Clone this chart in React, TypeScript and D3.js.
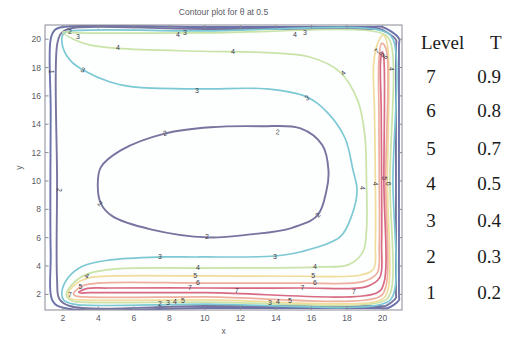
import { useEffect, useRef } from 'react'

import { curveCatmullRomClosed, line, scaleLinear, select } from 'd3'

// legend table
const legendLevels = ['7', '6', '5', '4', '3', '2', '1']
const legendT = ['0.9', '0.8', '0.7', '0.5', '0.4', '0.3', '0.2']

const levelColors: Record<number, string> = {
  1: '#6d73aa',
  2: '#77749f',
  3: '#7cc9d4',
  4: '#c9e3a8',
  5: '#f0dc9c',
  6: '#efaf9e',
  7: '#d96a84',
}

const xTicks = [2, 4, 6, 8, 10, 12, 14, 16, 18, 20]
const yTicks = [2, 4, 6, 8, 10, 12, 14, 16, 18, 20]

// contour lines, [x, y] in data units
const level1Loop: [number, number][] = [
  [2.0, 20.86], [10, 20.86], [19.5, 20.86], [20.0, 20.86], [20.93, 20.05], [20.93, 19.6], [20.93, 10],
  [20.93, 1.9], [20.93, 1.6], [20.3, 1.04], [19.9, 1.04], [10, 1.04], [2.1, 1.04], [1.45, 1.5],
  [1.32, 5], [1.32, 15], [1.32, 20.0], [1.55, 20.65],
]
const level2Loop: [number, number][] = [
  [2.3, 20.72], [10, 20.72], [19.5, 20.72], [19.85, 20.72], [20.76, 19.95], [20.76, 19.5], [20.76, 10],
  [20.76, 2.0], [20.76, 1.75], [20.15, 1.18], [19.8, 1.18], [10, 1.18], [2.4, 1.18], [1.8, 1.7],
  [1.68, 3], [1.68, 10], [1.68, 19.6], [1.9, 20.4],
]
const level2Oval: [number, number][] = [
  [3.97, 9.69], [4.14, 10.96], [5.26, 12.16], [7.79, 13.36], [10.32, 13.79], [13.14, 13.86],
  [15.39, 13.71], [16.62, 12.52], [16.96, 10.75], [16.85, 9.34], [16.34, 7.58], [14.82, 6.66],
  [12.57, 6.23], [10.16, 6.02], [6.95, 6.59], [4.81, 7.5], [4.14, 8.42],
]
const level3Loop: [number, number][] = [
  [1.95, 20.1], [2.1, 19.1], [2.5, 18.4], [3.14, 17.83], [4.66, 16.98], [5.95, 16.63],
  [9.73, 16.49], [13.5, 16.49], [15.75, 15.92], [16.88, 14.86], [17.89, 13.03], [18.34, 10.77],
  [18.57, 9.36], [18.28, 7.6], [17.61, 6.05], [15.36, 4.99], [13.95, 4.71], [9.73, 4.64],
  [7.47, 4.64], [4.66, 4.43], [3.14, 4.0], [2.29, 3.16], [1.95, 2.17], [2.05, 1.6], [2.6, 1.32],
  [10, 1.32], [20.0, 1.32], [20.59, 1.9], [20.59, 10], [20.59, 20.0], [20.0, 20.58],
  [10, 20.58], [2.5, 20.58], [2.05, 20.4],
]
const level4Loop: [number, number][] = [
  [2.0, 20.5], [2.6, 20.0], [3.5, 19.6], [5.1, 19.35], [9.7, 19.15], [13.5, 19.05], [15.9, 18.74],
  [17.6, 17.7], [18.6, 15.7], [19.0, 13.3], [19.1, 10], [19.1, 6.5], [18.9, 5.0], [18.1, 4.1],
  [16.2, 3.93], [9.6, 3.86], [5.0, 3.8], [3.4, 3.45], [2.6, 2.8], [2.2, 2.0], [2.5, 1.55],
  [3.0, 1.46], [10, 1.46], [19.9, 1.46], [20.42, 2.0], [20.42, 10], [20.42, 19.9], [19.9, 20.44],
  [10, 20.44], [2.8, 20.44],
]
const level5Loop: [number, number][] = [
  [2.3, 2.0], [2.7, 2.7], [3.4, 3.15], [5.0, 3.3], [10, 3.3], [15.4, 3.28], [18.7, 3.35],
  [19.5, 3.8], [19.6, 5.5], [19.6, 10], [19.55, 15], [19.5, 18.2], [19.7, 19.6], [20.05, 20.3],
  [20.28, 19.6], [20.28, 10], [20.28, 2.2], [19.9, 1.61], [10, 1.61], [3.0, 1.61], [2.45, 1.7],
]
const level6Loop: [number, number][] = [
  [2.6, 2.05], [3.1, 2.6], [4.0, 2.8], [10, 2.8], [15.5, 2.8], [18.9, 2.9], [19.7, 3.5],
  [19.82, 5.5], [19.82, 10], [19.8, 15], [19.8, 18.5], [19.95, 19.7], [20.18, 19.4], [20.18, 10],
  [20.18, 2.5], [19.8, 1.82], [10, 1.82], [3.2, 1.82], [2.7, 1.9],
]
const level7Loop: [number, number][] = [
  [2.9, 2.15], [3.4, 2.42], [4.5, 2.45], [10, 2.45], [15.5, 2.45], [19.1, 2.55], [19.85, 3.2],
  [19.95, 5.5], [19.95, 10], [19.93, 15], [19.9, 18.6], [20.0, 19.1], [20.08, 18.6], [20.08, 10],
  [20.08, 2.8], [19.7, 2.12], [10, 2.12], [3.5, 2.12], [3.0, 2.1],
]

const contours: { level: number; points: [number, number][] }[] = [
  { level: 1, points: level1Loop },
  { level: 2, points: level2Loop },
  { level: 2, points: level2Oval },
  { level: 3, points: level3Loop },
  { level: 4, points: level4Loop },
  { level: 5, points: level5Loop },
  { level: 6, points: level6Loop },
  { level: 7, points: level7Loop },
]

// clabel digits: x, y, text, angle
const contourLabels: [number, number, string, number][] = [
  [1.39, 17.7, '1', 90], [1.84, 9.36, '2', 90],
  [7.76, 13.38, '2', -15], [14.1, 13.45, '2', 5], [16.37, 7.6, '2', -50], [10.12, 6.05, '2', 0], [4.1, 8.4, '2', 40],
  [3.14, 17.83, '3', 30], [9.56, 16.4, '3', 0], [15.75, 15.85, '3', -30], [13.95, 4.66, '3', 0], [7.47, 4.66, '3', 0],
  [5.11, 19.4, '4', 0], [11.58, 19.1, '4', 0], [17.78, 17.62, '4', -45], [18.9, 9.5, '4', 90],
  [9.61, 3.86, '4', 0], [16.2, 3.93, '4', 0], [3.36, 3.3, '4', 30],
  [9.45, 3.3, '5', 0], [9.61, 2.85, '6', 0], [16.1, 3.3, '5', 0], [16.2, 2.85, '6', 0],
  [9.16, 2.5, '7', 0], [11.8, 2.3, '7', 0], [15.5, 2.5, '7', 0], [18.4, 2.2, '7', 0],
  [7.47, 1.35, '2', 0], [7.92, 1.42, '3', 0], [8.32, 1.5, '4', 0], [8.77, 1.57, '5', 0],
  [13.67, 1.4, '3', 0], [14.12, 1.48, '4', 0], [14.79, 1.56, '5', 0],
  [2.41, 20.55, '2', 0], [2.86, 20.2, '3', 0], [8.49, 20.3, '4', 0], [8.88, 20.5, '3', 0],
  [15.08, 20.3, '4', 0], [15.64, 20.5, '3', 0],
  [19.69, 19.15, '7', -45], [19.95, 18.95, '5', -45], [20.15, 18.75, '6', -45], [20.5, 17.9, '4', 90],
  [19.58, 9.8, '4', 90], [20.14, 10.2, '5', 90], [20.35, 9.8, '6', 90],
  [2.4, 2.0, '7', 0], [3.0, 2.55, '5', 0],
]

function ContourChart() {
  const svgRef = useRef<SVGSVGElement | null>(null)

  useEffect(() => {
    if (!svgRef.current) {
      return
    }
    const svg = select(svgRef.current)
    svg.selectAll('*').remove()

    const plot = { left: 45, right: 402, top: 25, bottom: 310 }
    const x = scaleLinear().domain([1, 21.1]).range([plot.left, plot.right])
    const y = scaleLinear().domain([0.9, 21]).range([plot.bottom, plot.top])

    const defs = svg.append('defs')
    defs
      .append('clipPath')
      .attr('id', 'plot-clip')
      .append('rect')
      .attr('x', plot.left)
      .attr('y', plot.top)
      .attr('width', plot.right - plot.left)
      .attr('height', plot.bottom - plot.top)
    defs
      .append('filter')
      .attr('id', 'soft')
      .append('feGaussianBlur')
      .attr('stdDeviation', 0.45)

    svg
      .append('rect')
      .attr('x', plot.left)
      .attr('y', plot.top)
      .attr('width', plot.right - plot.left)
      .attr('height', plot.bottom - plot.top)
      .attr('fill', '#fdfefe')

    const path = line<[number, number]>()
      .x(d => x(d[0]))
      .y(d => y(d[1]))
      .curve(curveCatmullRomClosed.alpha(0.5))

    const lines = svg.append('g').attr('clip-path', 'url(#plot-clip)')
    const strokes = lines.append('g').attr('filter', 'url(#soft)')
    strokes
      .selectAll('path')
      .data(contours)
      .join('path')
      .attr('d', d => path(d.points))
      .attr('fill', 'none')
      .attr('stroke', d => levelColors[d.level])
      .attr('stroke-width', d => (d.level <= 2 ? 1.9 : 1.7))
      .attr('stroke-linejoin', 'round')

    lines
      .selectAll('text')
      .data(contourLabels)
      .join('text')
      .attr('transform', d => `translate(${x(d[0])},${y(d[1])}) rotate(${d[3]})`)
      .attr('text-anchor', 'middle')
      .attr('dy', '0.35em')
      .attr('font-family', 'Arial, "Liberation Sans", sans-serif')
      .attr('font-size', 7)
      .attr('fill', '#3a3a48')
      .text(d => d[2])

    // axes box with inner ticks on all sides
    const axis = svg.append('g').attr('stroke', '#8a8a96').attr('stroke-width', 1)
    axis
      .append('rect')
      .attr('x', plot.left)
      .attr('y', plot.top)
      .attr('width', plot.right - plot.left)
      .attr('height', plot.bottom - plot.top)
      .attr('fill', 'none')
    xTicks.forEach(t => {
      axis.append('line').attr('x1', x(t)).attr('x2', x(t)).attr('y1', plot.bottom).attr('y2', plot.bottom - 3.5)
      axis.append('line').attr('x1', x(t)).attr('x2', x(t)).attr('y1', plot.top).attr('y2', plot.top + 3.5)
    })
    yTicks.forEach(t => {
      axis.append('line').attr('x1', plot.left).attr('x2', plot.left + 3.5).attr('y1', y(t)).attr('y2', y(t))
      axis.append('line').attr('x1', plot.right).attr('x2', plot.right - 3.5).attr('y1', y(t)).attr('y2', y(t))
    })

    const tickText = svg
      .append('g')
      .attr('font-family', 'Arial, "Liberation Sans", sans-serif')
      .attr('font-size', 8.5)
      .attr('fill', '#5a5a64')
    tickText
      .selectAll('text.xt')
      .data(xTicks)
      .join('text')
      .attr('class', 'xt')
      .attr('x', d => x(d))
      .attr('y', plot.bottom + 11)
      .attr('text-anchor', 'middle')
      .text(d => d)
    tickText
      .selectAll('text.yt')
      .data(yTicks)
      .join('text')
      .attr('class', 'yt')
      .attr('x', plot.left - 4)
      .attr('y', d => y(d) + 3)
      .attr('text-anchor', 'end')
      .text(d => d)

    tickText
      .append('text')
      .attr('x', (plot.left + plot.right) / 2)
      .attr('y', 334)
      .attr('text-anchor', 'middle')
      .text('x')
    tickText
      .append('text')
      .attr('transform', `translate(22, ${(plot.top + plot.bottom) / 2}) rotate(-90)`)
      .attr('text-anchor', 'middle')
      .text('y')
    tickText
      .append('text')
      .attr('x', (plot.left + plot.right) / 2)
      .attr('y', 15)
      .attr('text-anchor', 'middle')
      .attr('font-size', 8.5)
      .text('Contour plot for θ at 0.5')

    // level table
    const table = svg
      .append('g')
      .attr('font-family', '"Liberation Serif", "Times New Roman", serif')
      .attr('font-size', 19)
      .attr('fill', '#1a1a1a')
    table.append('text').attr('x', 421).attr('y', 49).text('Level')
    table.append('text').attr('x', 490).attr('y', 49).text('T')
    const rowY = [83, 117, 155, 190, 227, 263, 299]
    legendLevels.forEach((level, i) => {
      table.append('text').attr('x', 431).attr('y', rowY[i]).attr('text-anchor', 'middle').text(level)
      table.append('text').attr('x', 501).attr('y', rowY[i]).attr('text-anchor', 'end').text(legendT[i])
    })
  }, [])

  return (
    <svg
      ref={svgRef}
      width={512}
      height={343}
      style={{ position: 'absolute', left: 0, top: 0, background: '#ffffff' }}
    />
  )
}

export default function App() {
  return <ContourChart />
}
